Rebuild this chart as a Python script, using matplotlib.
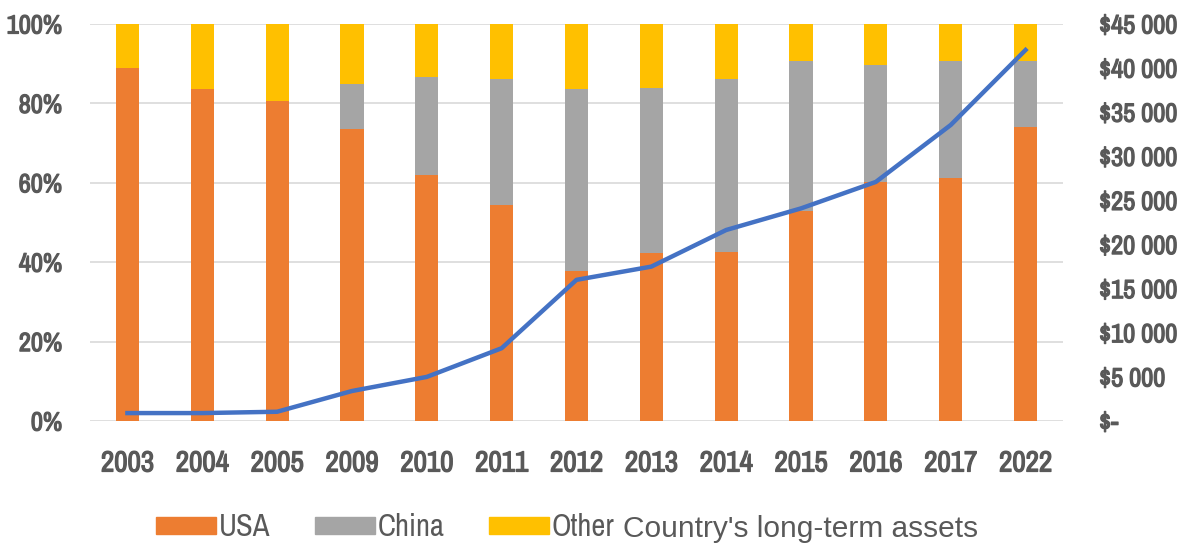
import numpy as np
import matplotlib.pyplot as plt
from matplotlib.patches import Patch
from matplotlib import font_manager
from matplotlib.font_manager import FontProperties
import matplotlib.patheffects as pe

years = ["2003", "2004", "2005", "2009", "2010", "2011", "2012",
         "2013", "2014", "2015", "2016", "2017", "2022"]
usa = [88.8, 83.5, 80.6, 73.5, 62.0, 54.4, 37.9, 42.2, 42.5, 53.0, 60.1, 61.1, 74.0]
china = [0.0, 0.0, 0.0, 11.4, 24.6, 31.7, 45.6, 41.8, 43.6, 37.8, 29.5, 29.7, 16.8]
other = [100 - u - c for u, c in zip(usa, china)]
assets = [900, 900, 1050, 3400, 5000, 8250, 16000, 17500, 21650, 24100, 27100, 33550, 42050]

pct_ticks = [0, 20, 40, 60, 80, 100]
usd_ticks = [0, 5000, 10000, 15000, 20000, 25000, 30000, 35000, 40000, 45000]

# narrow font: Archivo Narrow if present, else DejaVu Sans Condensed
narrow_file = None
for f in font_manager.fontManager.ttflist:
    if "ArchivoNarrow[" in f.fname and "Italic" not in f.fname:
        narrow_file = f.fname
if narrow_file is None:
    for f in font_manager.fontManager.ttflist:
        if f.fname.endswith("DejaVuSansCondensed.ttf"):
            narrow_file = f.fname


def fp(size):
    if narrow_file:
        return FontProperties(fname=narrow_file, size=size)
    return FontProperties(family="DejaVu Sans", size=size)


tick_col = "#595959"
thick = [pe.withStroke(linewidth=0.9, foreground=tick_col)]

fig = plt.figure(figsize=(11.89, 5.45), dpi=100)
ax = fig.add_axes([0.0757, 0.2275, 0.8183, 0.7285])
x = np.arange(len(years))
w = 0.31

ax.bar(x, usa, w, color="#ED7D31", zorder=2)
ax.bar(x, china, w, bottom=usa, color="#A5A5A5", zorder=2)
ax.bar(x, other, w, bottom=[u + c for u, c in zip(usa, china)], color="#FFC000", zorder=2)

ax.set_xlim(-0.5, len(years) - 0.5)
ax.set_ylim(0, 100)
ax.set_yticks(pct_ticks)
ax.set_yticklabels([f"{t}%" for t in pct_ticks])
ax.set_xticks(x)
ax.set_xticklabels(years)
ax.grid(axis="y", color="#D9D9D9", linewidth=1.2, zorder=0)
for s in ax.spines.values():
    s.set_visible(False)
ax.tick_params(length=0, colors=tick_col)
for lab in ax.get_yticklabels():
    lab.set_fontproperties(fp(19))
    lab.set_path_effects(thick)
for lab in ax.get_xticklabels():
    lab.set_fontproperties(fp(21))
    lab.set_path_effects(thick)
ax.tick_params(axis="y", pad=20)
ax.tick_params(axis="x", pad=20.5)

ax2 = ax.twinx()
ax2.plot(x, assets, color="#4472C4", linewidth=3.2, zorder=5)
ax2.set_ylim(0, 45000)
ax2.set_yticks(usd_ticks)
ax2.set_yticklabels(["$-"] + [f"${t // 1000} 000" for t in usd_ticks[1:]])
for s in ax2.spines.values():
    s.set_visible(False)
ax2.tick_params(length=0, colors=tick_col, pad=26)
for lab in ax2.get_yticklabels():
    lab.set_fontproperties(fp(19))
    lab.set_path_effects(thick)

handles = [Patch(color="#ED7D31"), Patch(color="#A5A5A5"), Patch(color="#FFC000")]
leg = fig.legend(handles, ["USA", "China", "Other"], loc="center left",
                 bbox_to_anchor=(156 / 1189, 0.033), ncol=3, frameon=False,
                 borderpad=0, borderaxespad=0,
                 handlelength=1.96, handleheight=0.49, handletextpad=0.1,
                 columnspacing=1.45, prop=fp(22))
for t in leg.get_texts():
    t.set_color(tick_col)
fig.text(623 / 1189, 0.014, "Country's long-term assets", family="Liberation Sans",
         fontsize=21.5, color=tick_col, va="baseline")

fig.savefig("out.png", dpi=100)
